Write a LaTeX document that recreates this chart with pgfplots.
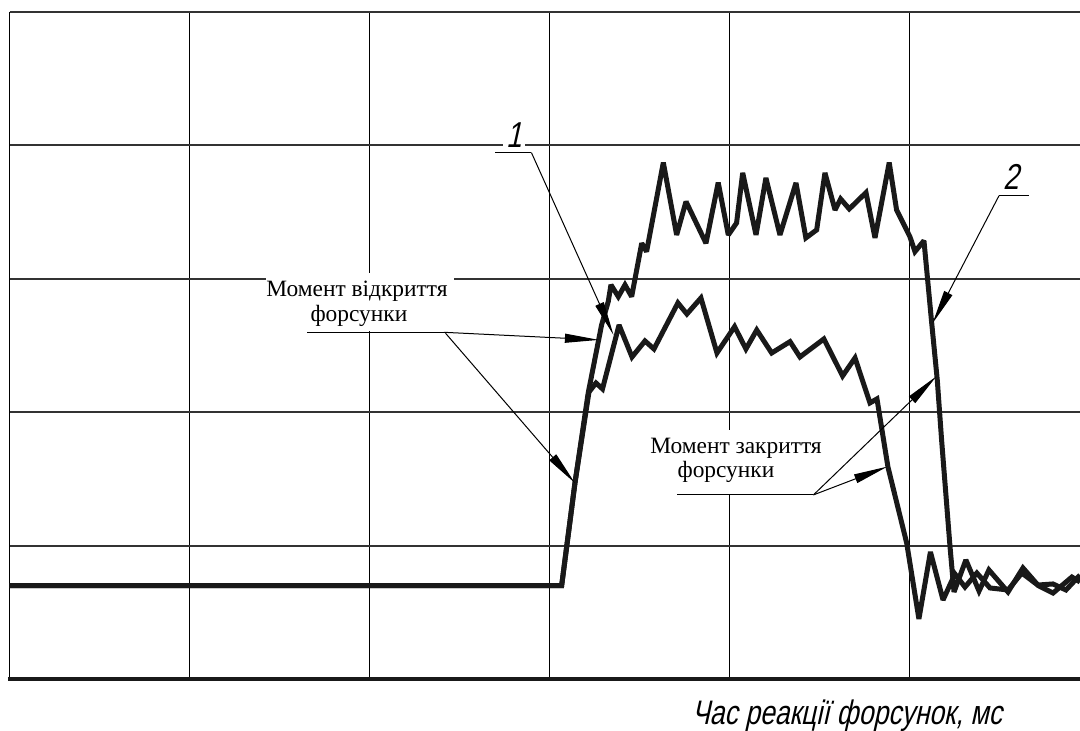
\documentclass[border=0pt]{standalone}
\usepackage{pgfplots}
\pgfplotsset{compat=1.18}
\usepackage{pgfplotstable}
\usepackage{fontspec}
\setmainfont{Liberation Serif}
\newfontfamily\gost{Liberation Sans}[FakeSlant=0.22,FakeStretch=0.78]
\usetikzlibrary{arrows.meta}

% injector 1 (lower trace), grid units
\pgfplotstableread{
x y
0.000 0.701
3.067 0.701
3.141 1.470
3.219 2.152
3.258 2.219
3.294 2.175
3.386 2.654
3.458 2.414
3.530 2.534
3.580 2.474
3.713 2.819
3.763 2.736
3.841 2.856
3.930 2.444
4.028 2.641
4.091 2.474
4.151 2.616
4.234 2.444
4.336 2.529
4.391 2.414
4.524 2.549
4.628 2.272
4.697 2.407
4.780 2.070
4.819 2.100
4.880 1.590
4.984 1.021
5.052 0.452
5.116 0.954
5.186 0.594
5.252 0.789
5.308 0.691
5.374 0.796
5.447 0.684
5.547 0.669
5.624 0.796
5.719 0.699
5.797 0.646
5.902 0.766
5.947 0.729
}\injA

% injector 2 (upper trace), grid units
\pgfplotstableread{
x y
0.000 0.701
3.067 0.701
3.141 1.470
3.214 2.140
3.289 2.654
3.326 2.829
3.341 2.954
3.382 2.866
3.419 2.954
3.456 2.866
3.512 3.266
3.539 3.203
3.632 3.870
3.706 3.328
3.758 3.578
3.869 3.266
3.937 3.720
3.993 3.328
4.039 3.418
4.073 3.793
4.147 3.328
4.202 3.755
4.280 3.328
4.369 3.718
4.424 3.306
4.484 3.366
4.530 3.793
4.586 3.515
4.617 3.598
4.665 3.523
4.758 3.645
4.808 3.306
4.887 3.870
4.928 3.515
5.002 3.315
5.030 3.203
5.080 3.285
5.123 2.669
5.154 2.242
5.178 1.793
5.224 1.006
5.247 0.654
5.313 0.894
5.386 0.661
5.441 0.819
5.547 0.654
5.630 0.834
5.713 0.706
5.797 0.714
5.869 0.669
5.947 0.781
}\injB

\begin{document}
\begin{tikzpicture}
\useasboundingbox (-4.8bp,-25.85bp) rectangle (535.2bp,339.65bp);
\begin{axis}[
  at={(0,0)}, anchor=south west, scale only axis,
  width=535.2bp, height=333.8bp,
  xmin=0, xmax=5.947, ymin=0, ymax=5,
  xtick={0,1,2,3,4,5}, ytick={1,2,3,4,5},
  xticklabels={}, yticklabels={},
  major tick length=0pt,
  axis line style={draw=none},
  grid=major,
  x grid style={black, line width=0.65bp},
  y grid style={black!80, line width=0.85bp},
  clip mode=individual,
]
% thick time axis
\draw[black!90, line width=1.9bp] (axis cs:-0.01,0) -- (axis cs:5.947,0);

\addplot[black!90, line width=2.5bp, line join=miter, miter limit=2.5, no marks] table[x=x,y=y] {\injA};
\addplot[black!90, line width=2.5bp, line join=miter, miter limit=2.5, no marks] table[x=x,y=y] {\injB};

% label backgrounds
\fill[white] (axis cs:1.424,2.609) rectangle (axis cs:2.469,3.043);
\fill[white] (axis cs:3.524,1.388) rectangle (axis cs:4.547,1.867);

% opening moment
\node[anchor=base, font=\fontsize{11.7bp}{12bp}\selectfont] at (axis cs:1.930,2.866) {Момент відкриття};
\node[anchor=base, font=\fontsize{11.7bp}{12bp}\selectfont] at (axis cs:1.941,2.679) {форсунки};
\draw[line width=0.5bp] (axis cs:1.653,2.599) -- (axis cs:2.412,2.599);
\draw[line width=0.5bp, -{Triangle[length=17bp,width=4.5bp]}] (axis cs:2.412,2.599) -- (axis cs:3.274,2.542);
\draw[line width=0.5bp, -{Triangle[length=17bp,width=4.5bp]}] (axis cs:2.422,2.592) -- (axis cs:3.141,1.470);

% closing moment
\node[anchor=base, font=\fontsize{11.7bp}{12bp}\selectfont] at (axis cs:4.036,1.693) {Момент закриття};
\node[anchor=base, font=\fontsize{11.7bp}{12bp}\selectfont] at (axis cs:3.980,1.508) {форсунки};
\draw[line width=0.5bp] (axis cs:3.708,1.381) -- (axis cs:4.466,1.381);
\draw[line width=0.5bp, -{Triangle[length=17bp,width=4.5bp]}] (axis cs:4.466,1.381) -- (axis cs:5.150,2.270);
\draw[line width=0.5bp, -{Triangle[length=17bp,width=4.5bp]}] (axis cs:4.466,1.381) -- (axis cs:4.877,1.593);

% trace numbers
\node[fill=white, inner sep=1.5bp, anchor=base, font=\gost\fontsize{18bp}{18bp}\selectfont] at (axis cs:2.802,3.985) {1};
\draw[line width=0.5bp] (axis cs:2.699,3.945) -- (axis cs:2.899,3.945);
\draw[line width=0.5bp, -{Triangle[length=17bp,width=4.5bp]}] (axis cs:2.899,3.945) -- (axis cs:3.355,2.579);

\node[anchor=base, font=\gost\fontsize{18bp}{18bp}\selectfont] at (axis cs:5.563,3.672) {2};
\draw[line width=0.5bp] (axis cs:5.497,3.622) -- (axis cs:5.661,3.622);
\draw[line width=0.5bp, -{Triangle[length=17bp,width=4.5bp]}] (axis cs:5.497,3.622) -- (axis cs:5.128,2.667);

% time axis caption
\node[anchor=base, font=\gost\fontsize{17bp}{17bp}\selectfont] at (axis cs:4.652,-0.342) {Час реакції форсунок, мс};
\end{axis}
\end{tikzpicture}
\end{document}
